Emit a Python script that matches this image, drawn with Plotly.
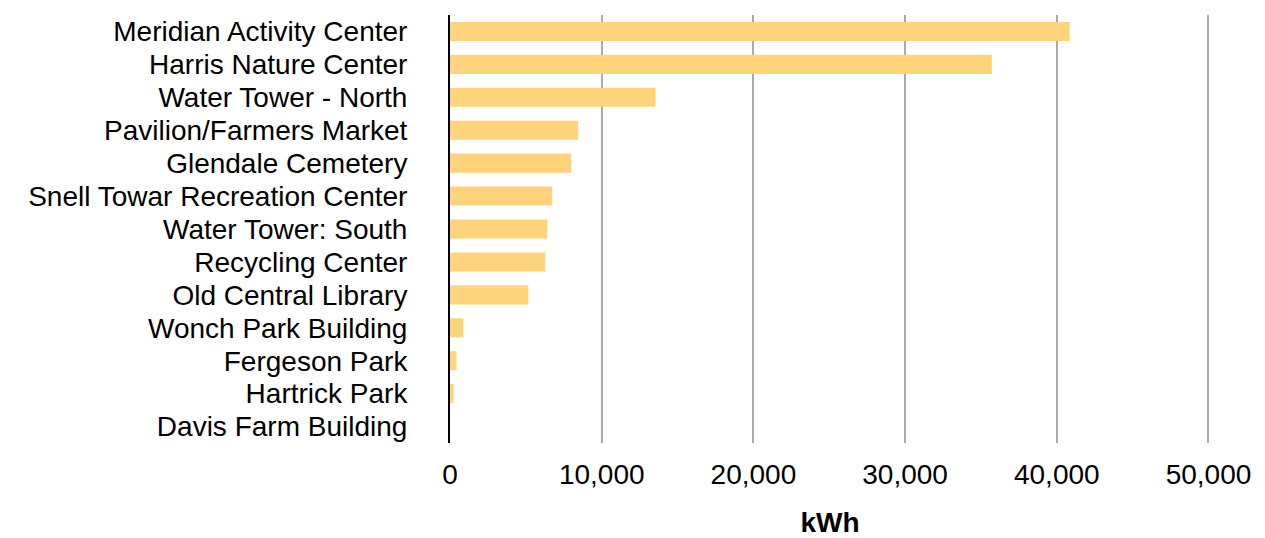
import plotly.graph_objects as go

categories = [
    "Meridian Activity Center",
    "Harris Nature Center",
    "Water Tower - North",
    "Pavilion/Farmers Market",
    "Glendale Cemetery",
    "Snell Towar Recreation Center",
    "Water Tower: South",
    "Recycling Center",
    "Old Central Library",
    "Wonch Park Building",
    "Fergeson Park",
    "Hartrick Park",
    "Davis Farm Building",
]
kwh = [40850, 35720, 13540, 8450, 7990, 6740, 6410, 6280, 5160, 890, 430, 230, 0]

x_ticks = [0, 10000, 20000, 30000, 40000, 50000]
x_tick_labels = ["0", "10,000", "20,000", "30,000", "40,000", "50,000"]

FONT = "Liberation Sans, Arial, Helvetica, sans-serif"

fig = go.Figure(
    go.Bar(
        x=kwh,
        y=categories,
        orientation="h",
        marker=dict(color="#FDD47B", line=dict(width=0)),
        hoverinfo="x+y",
    )
)

fig.update_layout(
    width=1265,
    height=538,
    margin=dict(l=450, r=55, t=15, b=95),
    paper_bgcolor="white",
    plot_bgcolor="white",
    bargap=0.42,
    showlegend=False,
    font=dict(family=FONT, size=28, color="black"),
)

fig.update_xaxes(
    automargin=False,
    range=[0, 50100],
    tickmode="array",
    tickvals=x_ticks,
    ticktext=x_tick_labels,
    showgrid=True,
    gridcolor="#AAAAAA",
    gridwidth=2,
    zeroline=False,
    showline=False,
    ticks="",
    ticklabelstandoff=12,
    tickfont=dict(family=FONT, size=28, color="black"),
    title=dict(text="<b>kWh</b>", font=dict(family=FONT, size=28, color="black"), standoff=23),
)

fig.update_yaxes(
    automargin=False,
    autorange="reversed",
    tickmode="array",
    tickvals=categories,
    ticktext=categories,
    showgrid=False,
    zeroline=False,
    showline=True,
    linecolor="black",
    linewidth=2,
    ticks="",
    ticklabelstandoff=35,
    tickfont=dict(family=FONT, size=28, color="black"),
)

fig.write_html("out.html")
